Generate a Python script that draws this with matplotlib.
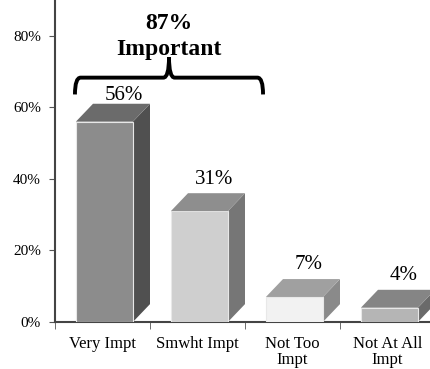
import numpy as np
import matplotlib.pyplot as plt
from matplotlib.patches import Polygon, PathPatch
from matplotlib.path import Path
from matplotlib.ticker import FuncFormatter

plt.rcParams['font.family'] = ['Liberation Serif', 'DejaVu Serif']

categories = ["Very Impt", "Smwht Impt", "Not Too\nImpt", "Not At All\nImpt"]
values = [56, 31, 7, 4]
front_colors = ["#8c8c8c", "#cfcfcf", "#f2f2f2", "#b5b5b5"]
top_colors = ["#6b6b6b", "#8e8e8e", "#a0a0a0", "#858585"]
side_colors = ["#505050", "#767676", "#8a8a8a", "#6a6a6a"]
combined_label = "87%\nImportant"
combined_span = (0, 1)

fig = plt.figure(figsize=(4.30, 3.69), dpi=100)
ax = fig.add_axes([55 / 430, 47 / 369, 380 / 430, 322 / 369])

x = np.arange(len(categories))
width = 0.6
shift = 0.02
dx, dy = 0.18, 5.0

ax.bar(x + shift, values, width=width, color=front_colors,
       edgecolor="#e8e8e8", linewidth=0.8, zorder=3)

for i, v in enumerate(values):
    left = i + shift - width / 2
    right = i + shift + width / 2
    top = Polygon([(left, v), (right, v), (right + dx, v + dy), (left + dx, v + dy)],
                  closed=True, facecolor=top_colors[i], edgecolor="none", zorder=3)
    side = Polygon([(right, 0), (right + dx, dy), (right + dx, v + dy), (right, v)],
                   closed=True, facecolor=side_colors[i], edgecolor="none", zorder=2)
    ax.add_patch(top)
    ax.add_patch(side)
    # the label under the brace is nudged right and sits closer to its bar
    if i == 0:
        off, gap = 0.20, 1.0
    else:
        off, gap = 0.15, 2.7
    ax.text(i + shift + off, v + dy + gap, f"{v}%", ha="center",
            va="baseline", fontsize=15, zorder=4)

# curly brace over the first two bars
x0, x1 = combined_span[0] - 0.29, combined_span[1] + 0.69
xm = (x0 + x1) / 2
yb, ye, yp = 68.3, 63.6, 74.0
r = 0.06
verts = [
    (x0, ye), (x0, yb), (x0 + r, yb),
    (xm - r, yb), (xm, yb), (xm, yp),
    (xm, yb), (xm + r, yb),
    (x1 - r, yb), (x1, yb), (x1, ye),
]
codes = [Path.MOVETO, Path.CURVE3, Path.CURVE3,
         Path.LINETO, Path.CURVE3, Path.CURVE3,
         Path.CURVE3, Path.CURVE3,
         Path.LINETO, Path.CURVE3, Path.CURVE3]
ax.add_patch(PathPatch(Path(verts, codes), facecolor="none", edgecolor="black",
                       linewidth=2.8, capstyle="butt", zorder=5, clip_on=False))
ax.text(xm, 86.4, combined_label, ha="center", va="top",
        fontsize=17, fontweight="bold", linespacing=1.3)

ax.set_xlim(-0.5, 3.5)
ax.set_ylim(0, 90)
ax.set_yticks([0, 20, 40, 60, 80])
ax.yaxis.set_major_formatter(FuncFormatter(lambda v, _: f"{v:.0f}%"))
ax.set_xticks(x)
ax.set_xticklabels(categories, fontsize=12, linespacing=1.05)
ax.set_xticks(np.arange(len(categories)) - 0.5, minor=True)
ax.tick_params(axis="x", which="major", length=0, pad=10)
ax.tick_params(axis="x", which="minor", length=5, direction="out", color="#555555")
ax.tick_params(axis="y", labelsize=11, length=4, color="#555555", pad=6)

for s in ["top", "right"]:
    ax.spines[s].set_visible(False)
for s in ["left", "bottom"]:
    ax.spines[s].set_color("#444444")
    ax.spines[s].set_linewidth(1.5)

fig.savefig("out.png", dpi=100)
